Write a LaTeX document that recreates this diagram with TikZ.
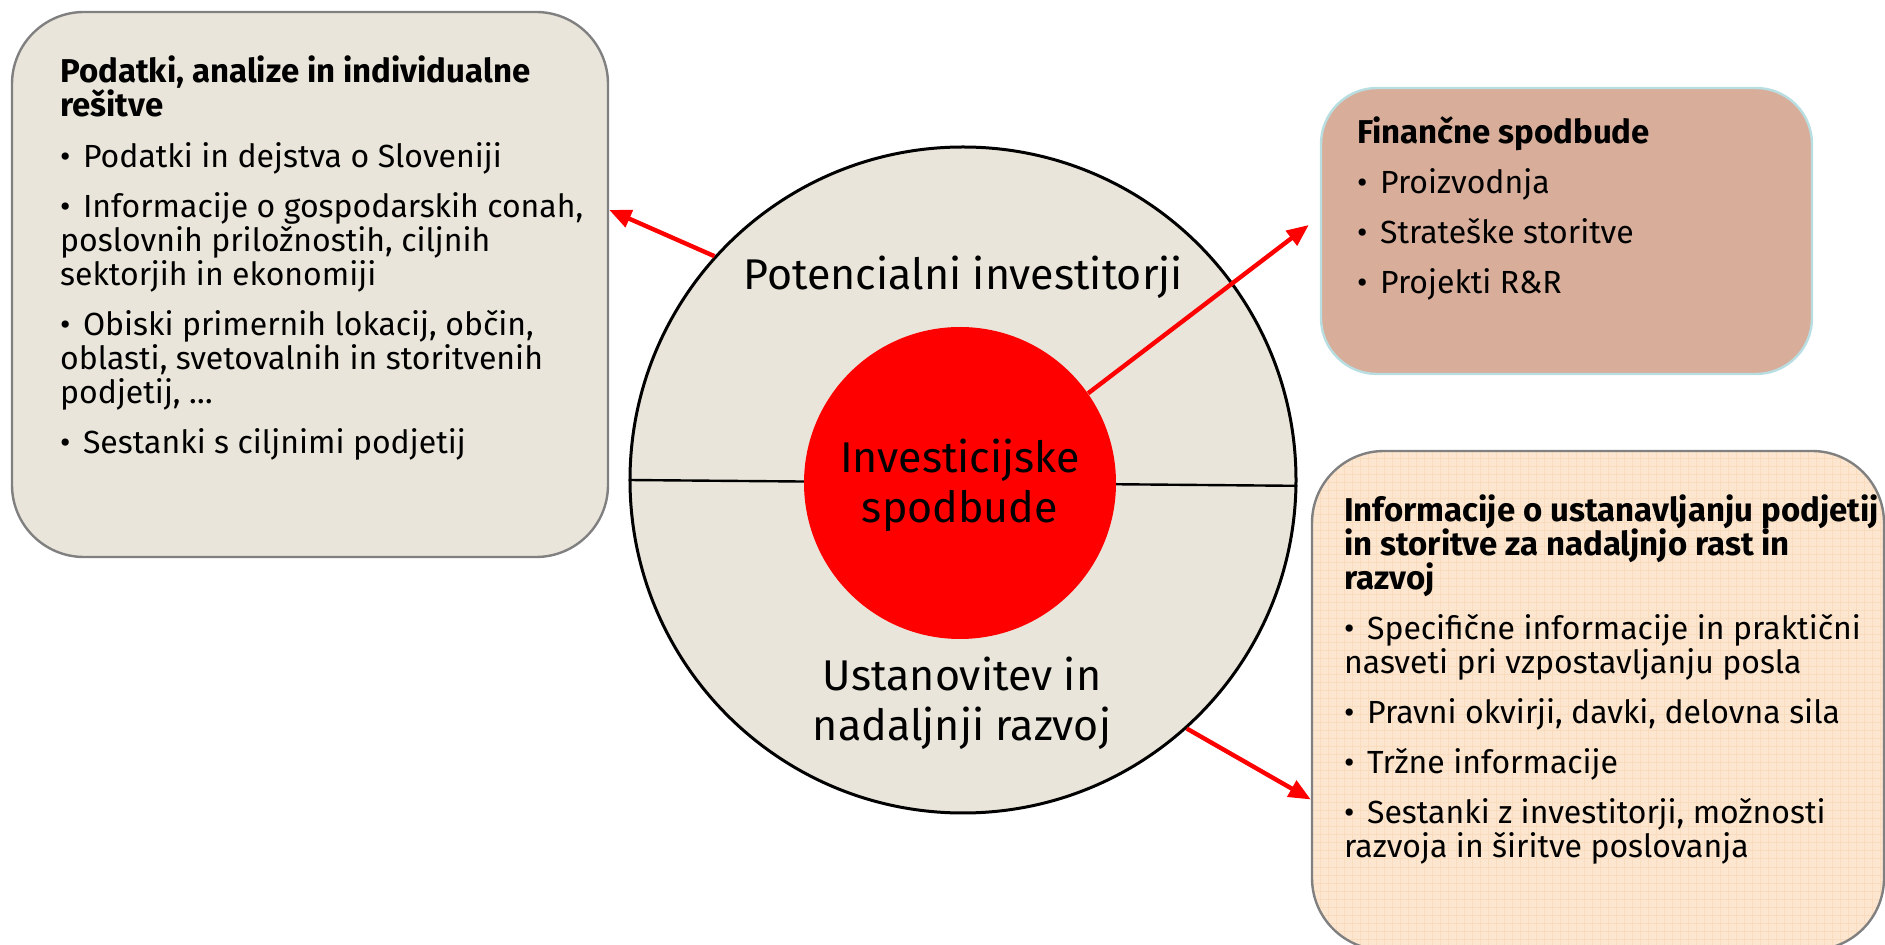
\documentclass[tikz,border=0pt]{standalone}
\usepackage{fontspec}
\setmainfont{Fira Sans}
\usetikzlibrary{arrows.meta,positioning,calc}

\definecolor{paper}{HTML}{EAE5DA}
\definecolor{salmon}{HTML}{D8AE9B}
\definecolor{peach}{HTML}{FCE6D0}
\definecolor{peachline}{HTML}{F9DBBD}
\definecolor{frame}{HTML}{808080}
\definecolor{iceblue}{HTML}{B8DEE2}

\newcommand{\bul}{•\hspace{2pt} }
\newcommand{\boxhead}[1]{{\fontsize{16.5}{17}\selectfont\bfseries #1}}
\newcommand{\tightlines}{\lineskiplimit=-20pt\relax}

\tikzset{
  infobox/.style={rounded corners=36pt, draw=frame, line width=1.2pt},
  boxtext/.style={anchor=north west, inner sep=0pt, align=left, font=\fontsize{16}{17}\selectfont\tightlines},
  ringtext/.style={align=center, inner sep=0pt, font=\fontsize{21.5}{25}\selectfont},
  pointer/.style={draw=red, line width=2.2pt, -{Triangle[length=11pt,width=9pt]}},
}

\begin{document}
\begin{tikzpicture}[x=0.5pt,y=-0.5pt]
\useasboundingbox (0,0) rectangle (1885,945);
\clip (0,0) rectangle (1885,945);

% three info boxes
\node[infobox, fill=paper, minimum width=298pt, minimum height=272.5pt] (data) at (310,284.5) {};
\node[infobox, fill=salmon, draw=iceblue, rounded corners=28pt, minimum width=245.5pt, minimum height=143pt] (fin) at (1566.5,231) {};
\node[infobox, fill=peach, minimum width=286pt, minimum height=249.5pt,
  path picture={
    \foreach \k in {0,...,72}
      \draw[peachline, line width=0.5pt] ([xshift=\k*4pt]path picture bounding box.north west) -- ([xshift=\k*4pt]path picture bounding box.south west);
    \foreach \k in {0,...,63}
      \draw[peachline, line width=0.5pt] ([yshift=-\k*4pt]path picture bounding box.north west) -- ([yshift=-\k*4pt]path picture bounding box.north east);
  }] (setup) at (1598,700.5) {};

% ring in the middle
\node[circle, draw, line width=1.5pt, fill=paper, minimum size=333pt] (ring) at (963,480) {};
\draw[line width=1.2pt] (ring.180) -- (ring.-1.5);
\node[circle, fill=red, minimum size=156pt] (core) at (960,483) {};

\node[ringtext] (potential) at (963,277) {Potencialni investitorji};
\node[ringtext] (incentive) at (960,485) {Investicijske\\spodbude};
\node[ringtext] (growth) at (962,703) {Ustanovitev in\\nadaljnji razvoj};

% box texts
\node[boxtext] (datatext) at ([xshift=24.5pt,yshift=-22.5pt]data.north west) {\boxhead{Podatki, analize in individualne}\\\boxhead{rešitve}\\[8.5pt]
\bul Podatki in dejstva o Sloveniji\\[8pt]
\bul Informacije o gospodarskih conah,\\poslovnih priložnostih, ciljnih\\sektorjih in ekonomiji\\[8pt]
\bul Obiski primernih lokacij, občin,\\oblasti, svetovalnih in storitvenih\\podjetij, …\\[8pt]
\bul Sestanki s ciljnimi podjetij};

\node[boxtext] (fintext) at ([xshift=18.5pt,yshift=-14.7pt]fin.north west) {\boxhead{Finančne spodbude}\\[8pt]
\bul Proizvodnja\\[8pt]
\bul Strateške storitve\\[8pt]
\bul Projekti R\&R};

\node[boxtext] (setuptext) at ([xshift=16.5pt,yshift=-22.5pt]setup.north west) {\boxhead{Informacije o ustanavljanju podjetij}\\\boxhead{in storitve za nadaljnjo rast in}\\\boxhead{razvoj}\\[8pt]
\bul Specifične informacije in praktični\\nasveti pri vzpostavljanju posla\\[8pt]
\bul Pravni okvirji, davki, delovna sila\\[8pt]
\bul Tržne informacije\\[8pt]
\bul Sestanki z investitorji, možnosti\\razvoja in širitve poslovanja};

% arrows
\draw[pointer] (ring.138) -- (data.14.6);
\draw[pointer] (core.35.2) -- ([xshift=-5.5pt,yshift=3pt]fin.west);
\draw[pointer] (ring.-48.8) -- ([yshift=-49.5pt]setup.west);
\end{tikzpicture}
\end{document}
